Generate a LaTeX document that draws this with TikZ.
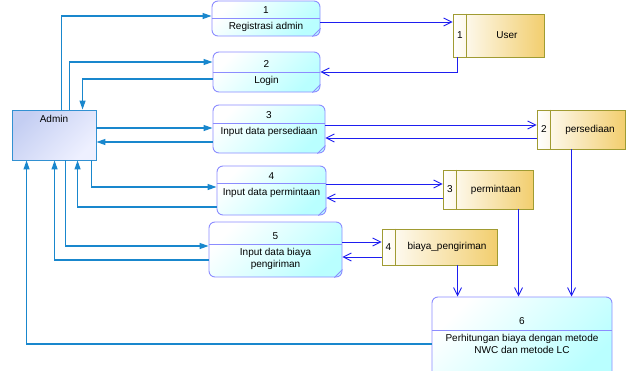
\documentclass[tikz,border=0pt]{standalone}
\usepackage{fontspec}
\setmainfont{Liberation Sans}
\usetikzlibrary{arrows.meta}
\definecolor{flowa}{RGB}{25,135,205}
\definecolor{flows}{RGB}{30,30,240}
\definecolor{procline}{RGB}{140,140,255}
\definecolor{procfill}{RGB}{185,255,255}
\definecolor{admtop}{RGB}{196,206,242}
\definecolor{admbot}{RGB}{238,240,255}
\definecolor{admline}{RGB}{50,145,210}
\definecolor{storeline}{RGB}{160,155,50}
\definecolor{storefill}{RGB}{242,206,110}
\begin{document}
\begin{tikzpicture}[x=1pt,y=-1pt,font=\fontsize{10}{12}\selectfont,
	proc/.style={draw=procline,line width=0.9pt,rounded corners=6pt,top color=white,bottom color=procfill,shading angle=45},
	store/.style={draw=storeline,line width=0.9pt,left color=white,right color=storefill},
	extern/.style={draw=admline,line width=0.9pt,top color=admtop,bottom color=admbot,shading angle=45},
	flowa/.style={draw=flowa,line width=1.2pt,-{Triangle[length=9pt,width=6pt]}},
	flows/.style={draw=flows,line width=0.9pt,-{Straight Barb[length=8pt,width=8pt]}}]
	\useasboundingbox (0,0) rectangle (630,370);
	% external entity
	\node[extern,minimum width=84pt,minimum height=50pt] (admin) at (54,135) {};
	\node at (54,119) {Admin};
	% processes
	\node[proc,minimum width=108pt,minimum height=35pt] (p1) at (266,18.5) {};
	\node[proc,minimum width=107pt,minimum height=40pt] (p2) at (266.5,72) {};
	\node[proc,minimum width=112pt,minimum height=48pt] (p3) at (269,129) {};
	\node[proc,minimum width=109pt,minimum height=49pt] (p4) at (271.5,190.5) {};
	\node[proc,minimum width=133pt,minimum height=55pt] (p5) at (275.5,249.5) {};
	\node[proc,minimum width=180pt,minimum height=82pt] (p6) at (522,338) {};
	\draw[procline,line width=0.9pt] (p1.west |- 0,18) -- (p1.east |- 0,18);
	\draw[procline,line width=0.9pt] (p2.west |- 0,72) -- (p2.east |- 0,72);
	\draw[procline,line width=0.9pt] (p3.west |- 0,123) -- (p3.east |- 0,123);
	\draw[procline,line width=0.9pt] (p4.west |- 0,183) -- (p4.east |- 0,183);
	\draw[procline,line width=0.9pt] (p5.west |- 0,244) -- (p5.east |- 0,244);
	\draw[procline,line width=0.9pt] (p6.west |- 0,330) -- (p6.east |- 0,330);
	\foreach \p in {p1,p2,p3,p4,p5,p6}
		\draw[procline,line width=0.9pt] ([xshift=-8pt]\p.south east) -- ([yshift=8pt]\p.south east);
	\node at (266,10) {1};
	\node at (266,27) {Registrasi admin};
	\node at (266.5,64) {2};
	\node at (266.5,81) {Login};
	\node at (269,115) {3};
	\node at (269,132) {Input data persediaan};
	\node at (271.5,176) {4};
	\node at (271.5,193) {Input data permintaan};
	\node at (275.5,236) {5};
	\node[align=center] at (275.5,259) {Input data biaya\\pengiriman};
	\node at (522,321) {6};
	\node[align=center] at (522,344) {Perhitungan biaya dengan metode\\NWC dan metode LC};
	% data stores
	\node[store,minimum width=91pt,minimum height=43pt] (s1) at (498.5,35.5) {};
	\node[store,minimum width=88pt,minimum height=39pt] (s2) at (581,129.5) {};
	\node[store,minimum width=90pt,minimum height=39pt] (s3) at (488,189.5) {};
	\node[store,minimum width=115pt,minimum height=36pt] (s4) at (439.5,247) {};
	\foreach \s in {s1,s2,s3,s4}
		\draw[storeline,line width=0.9pt] ([xshift=14pt]\s.north west) -- ([xshift=14pt]\s.south west);
	\node at (460,35.5) {1};
	\node at (507,35.5) {User};
	\node at (544,129.5) {2};
	\node at (590,129.5) {persediaan};
	\node at (450,189.5) {3};
	\node at (496,189.5) {permintaan};
	\node at (388.5,247) {4};
	\node at (447,247) {biaya\_pengiriman};
	% admin flows
	\draw[flowa] ([xshift=50pt]admin.north west) |- ([yshift=2.5pt]p1.west);
	\draw[flowa] ([xshift=58pt]admin.north west) |- ([yshift=10pt]p2.west);
	\draw[flowa] ([yshift=-7pt]p2.west) -| ([xshift=71pt]admin.north west);
	\draw[flowa] ([yshift=7pt]admin.east) coordinate (a3) -- (a3 -| p3.west);
	\path ([yshift=-7pt]admin.east) coordinate (b3);
	\draw[flowa] (b3 -| p3.west) -- (b3);
	\draw[flowa] ([xshift=80pt]admin.south west) |- ([yshift=3.5pt]p4.west);
	\draw[flowa] ([yshift=-16.5pt]p4.west) -| ([xshift=66pt]admin.south west);
	\draw[flowa] ([xshift=54pt]admin.south west) |- ([yshift=3.5pt]p5.west);
	\draw[flowa] ([yshift=-10.5pt]p5.west) -| ([xshift=43pt]admin.south west);
	\draw[flowa] ([yshift=-6pt]p6.west) -| ([xshift=15pt]admin.south west);
	% store flows
	\draw[flows] ([yshift=-3.5pt]p1.east) coordinate (a1) -- (a1 -| s1.west);
	\draw[flows] ([xshift=5pt]s1.south west) |- (p2.east);
	\draw[flows] ([yshift=4pt]p3.east) coordinate (c3) -- (c3 -| s2.west);
	\draw[flows] ([yshift=-8.5pt]s2.west) coordinate (d3) -- (d3 -| p3.east);
	\draw[flows] ([yshift=6.5pt]p4.east) coordinate (c4) -- (c4 -| s3.west);
	\draw[flows] ([yshift=-8.5pt]s3.west) coordinate (d4) -- (d4 -| p4.east);
	\draw[flows] ([yshift=7.5pt]p5.east) coordinate (c5) -- (c5 -| s4.west);
	\draw[flows] ([yshift=-10pt]s4.west) coordinate (d5) -- (d5 -| p5.east);
	\draw[flows] ([xshift=76pt]s4.south west) coordinate (e4) -- (e4 |- p6.north);
	\draw[flows] ([xshift=76pt]s3.south west) coordinate (e3) -- (e3 |- p6.north);
	\draw[flows] ([xshift=35pt]s2.south west) coordinate (e2) -- (e2 |- p6.north);
\end{tikzpicture}
\end{document}
